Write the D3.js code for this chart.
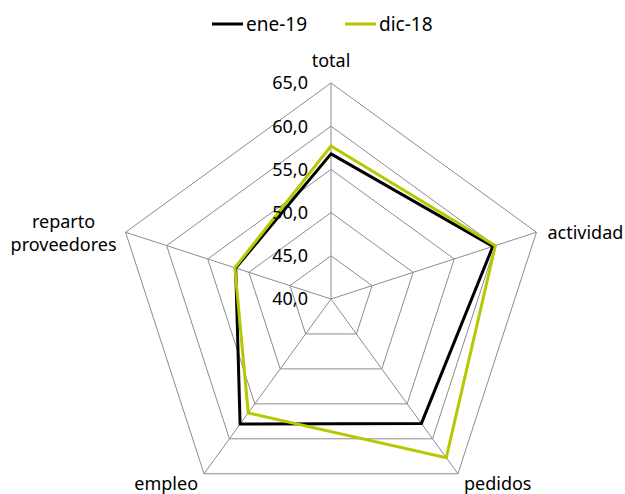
<!DOCTYPE html>
<html>
<head>
<meta charset="utf-8">
<script src="https://cdn.jsdelivr.net/npm/d3@7"></script>
<style>
  body { margin: 0; background: #fff; }
  text { font-family: "Noto Sans", sans-serif; fill: #000; }
</style>
</head>
<body>
<div id="vis"></div>
<script>
const FRAME_WIDTH = 625;
const FRAME_HEIGHT = 494;
const CENTER = {x: 331, y: 299};
const RADIUS = 216;

// data
const categories = ["total", "actividad", "pedidos", "empleo", "reparto proveedores"];
const ene19 = [56.8, 59.7, 57.8, 57.9, 51.6];
const dic18 = [57.7, 60.0, 62.7, 56.3, 51.7];
const seriesNames = ["ene-19", "dic-18"];
const seriesColors = ["#000000", "#b5c800"];
const ticks = [40, 45, 50, 55, 60, 65];

const FRAME = d3.select("#vis")
  .append("svg")
    .attr("width", FRAME_WIDTH)
    .attr("height", FRAME_HEIGHT);

const R_SCALE = d3.scaleLinear().domain([40, 65]).range([0, RADIUS]);
const A_SCALE = d3.scalePoint().domain(categories).range([0, 2 * Math.PI * 4 / 5]);

function pt(cat, v) {
  const a = A_SCALE(cat);
  const r = R_SCALE(v);
  return [Math.sin(a) * r, -Math.cos(a) * r];
}

const g = FRAME.append("g")
  .attr("transform", "translate(" + CENTER.x + "," + CENTER.y + ")");

// grid rings
ticks.forEach(t => {
  g.append("path")
    .attr("d", d3.line()(categories.map(c => pt(c, t))) + "Z")
    .attr("fill", "none")
    .attr("stroke", "#8c8c8c")
    .attr("stroke-width", 1);
});

// spokes
categories.forEach(c => {
  const p = pt(c, 65);
  g.append("line")
    .attr("x1", 0).attr("y1", 0)
    .attr("x2", p[0]).attr("y2", p[1])
    .attr("stroke", "#8c8c8c")
    .attr("stroke-width", 1);
});

// series
[ene19, dic18].forEach((vals, i) => {
  g.append("path")
    .attr("d", d3.line()(categories.map((c, k) => pt(c, vals[k]))) + "Z")
    .attr("fill", "none")
    .attr("stroke", seriesColors[i])
    .attr("stroke-width", 3)
    .attr("stroke-linejoin", "miter");
});

// tick labels (drawn after series, as in the reference)
g.selectAll(".tick")
  .data(ticks)
  .enter()
  .append("text")
    .attr("x", -23)
    .attr("y", d => -R_SCALE(d))
    .attr("dy", "0.35em")
    .attr("text-anchor", "end")
    .attr("font-size", "18px")
    .text(d => d.toFixed(1).replace(".", ","));

// category labels
const labelPos = {
  "total": {dx: 0, dy: -22, anchor: "middle"},
  "actividad": {dx: 11, dy: 0, anchor: "start"},
  "pedidos": {dx: 6, dy: 10, anchor: "start"},
  "empleo": {dx: -6, dy: 10, anchor: "end"},
  "reparto proveedores": {dx: -62, dy: 1, anchor: "middle"}
};
categories.forEach(c => {
  const p = pt(c, 65);
  const lp = labelPos[c];
  const words = c === "reparto proveedores" ? ["reparto", "proveedores"] : [c];
  const t = g.append("text")
    .attr("text-anchor", lp.anchor)
    .attr("font-size", "18px");
  words.forEach((w, k) => {
    t.append("tspan")
      .attr("x", p[0] + lp.dx)
      .attr("y", p[1] + lp.dy + (k - (words.length - 1) / 2) * 23)
      .attr("dy", "0.35em")
      .text(w);
  });
});

// legend
const legend = FRAME.append("g");
const legendX = [212, 345];
seriesNames.forEach((s, i) => {
  legend.append("line")
    .attr("x1", legendX[i]).attr("x2", legendX[i] + 31)
    .attr("y1", 24).attr("y2", 24)
    .attr("stroke", seriesColors[i])
    .attr("stroke-width", 3);
  legend.append("text")
    .attr("x", legendX[i] + 34)
    .attr("y", 24)
    .attr("dy", "0.35em")
    .attr("font-size", "19px")
    .text(s);
});
</script>
</body>
</html>
